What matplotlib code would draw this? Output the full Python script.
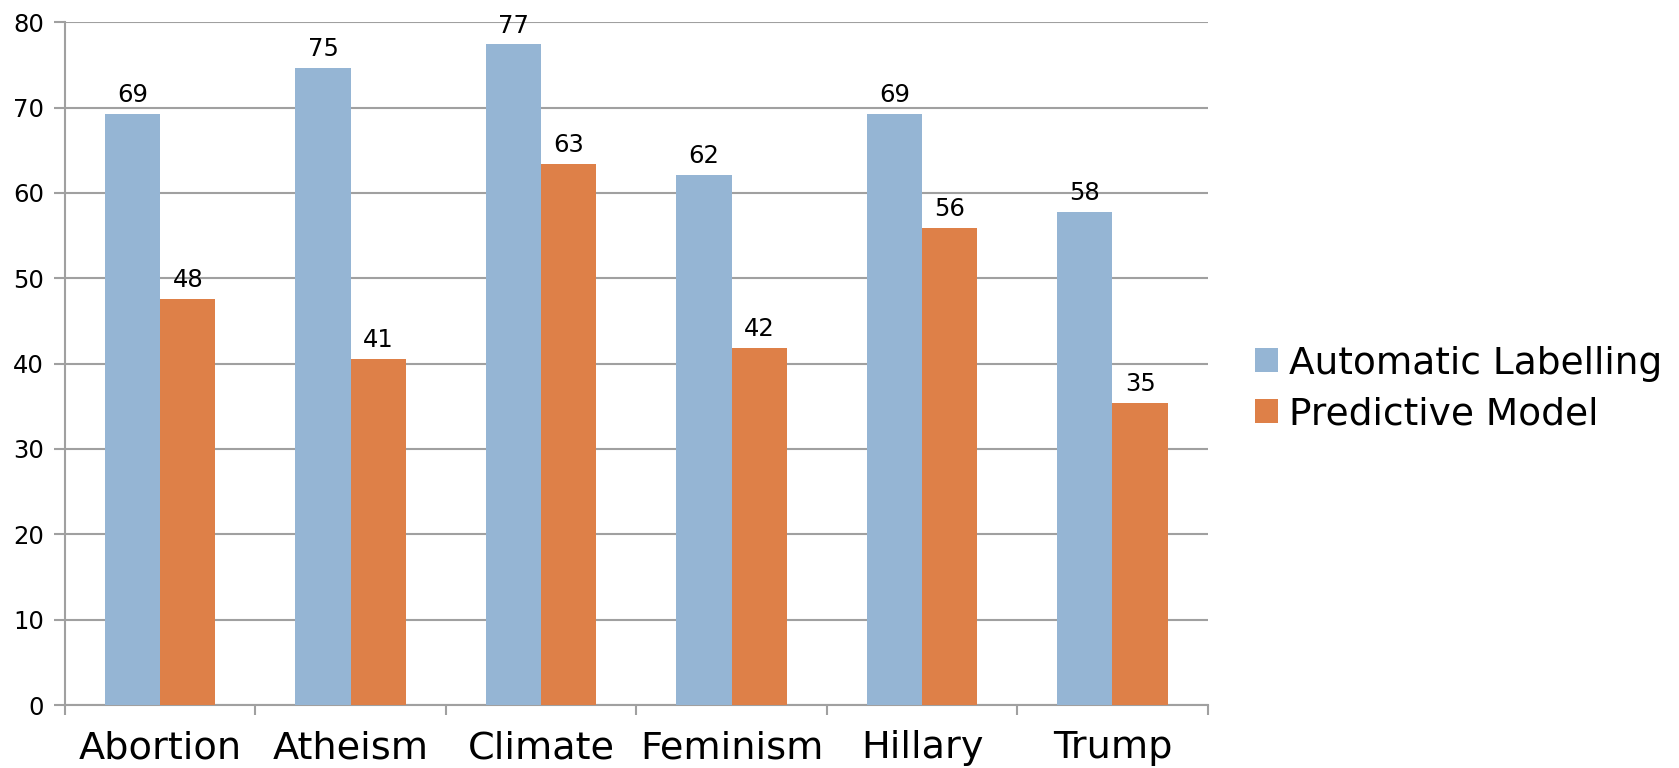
import matplotlib
matplotlib.use("Agg")
import matplotlib.pyplot as plt
import numpy as np

categories = ["Abortion", "Atheism", "Climate", "Feminism", "Hillary", "Trump"]
automatic_labelling = [69.3, 74.7, 77.4, 62.1, 69.3, 57.8]
predictive_model = [47.6, 40.6, 63.4, 41.8, 55.9, 35.4]
series_names = ["Automatic Labelling", "Predictive Model"]
y_ticks = [0, 10, 20, 30, 40, 50, 60, 70, 80]

BLUE = "#95B5D4"
ORANGE = "#DE8048"
GRID = "#A0A0A0"

plt.rcParams["font.family"] = ["DejaVu Sans"]

fig = plt.figure(figsize=(16.79, 7.68), dpi=100)
ax = fig.add_axes([0.0387, 0.082, 0.6806, 0.889])

x = np.arange(len(categories))
w = 0.29
b1 = ax.bar(x - w / 2, automatic_labelling, w, color=BLUE, label=series_names[0], zorder=3)
b2 = ax.bar(x + w / 2, predictive_model, w, color=ORANGE, label=series_names[1], zorder=3)

for bars in (b1, b2):
    ax.bar_label(bars, fmt="%.0f", padding=5, fontsize=17.5, color="black")

ax.set_xlim(-0.5, len(categories) - 0.5)
ax.set_ylim(0, 80)
ax.set_yticks(y_ticks)
ax.tick_params(axis="y", labelsize=17.5, length=8, width=1.5, color=GRID, pad=7)

# category boundaries carry the tick marks, names sit at the centres
ax.set_xticks(np.arange(len(categories) + 1) - 0.5)
ax.set_xticklabels([])
ax.set_xticks(x, minor=True)
ax.set_xticklabels(categories, minor=True, fontsize=27.5)
ax.tick_params(axis="x", which="major", length=7, width=1.5, color=GRID)
ax.tick_params(axis="x", which="minor", length=0, pad=18)

ax.yaxis.grid(True, color=GRID, linewidth=1.5, zorder=0)
ax.set_axisbelow(True)
for side in ("top", "right"):
    ax.spines[side].set_visible(False)
for side in ("left", "bottom"):
    ax.spines[side].set_color(GRID)
    ax.spines[side].set_linewidth(1.5)

fig.legend(handles=[b1, b2], labels=series_names, loc="center left",
           bbox_to_anchor=(0.7475, 1 - 389 / 768), frameon=False, fontsize=27,
           handlelength=0.6, handleheight=0.6, handletextpad=0.3,
           labelspacing=0.4, borderpad=0, borderaxespad=0)

fig.savefig("out.png", dpi=100)
